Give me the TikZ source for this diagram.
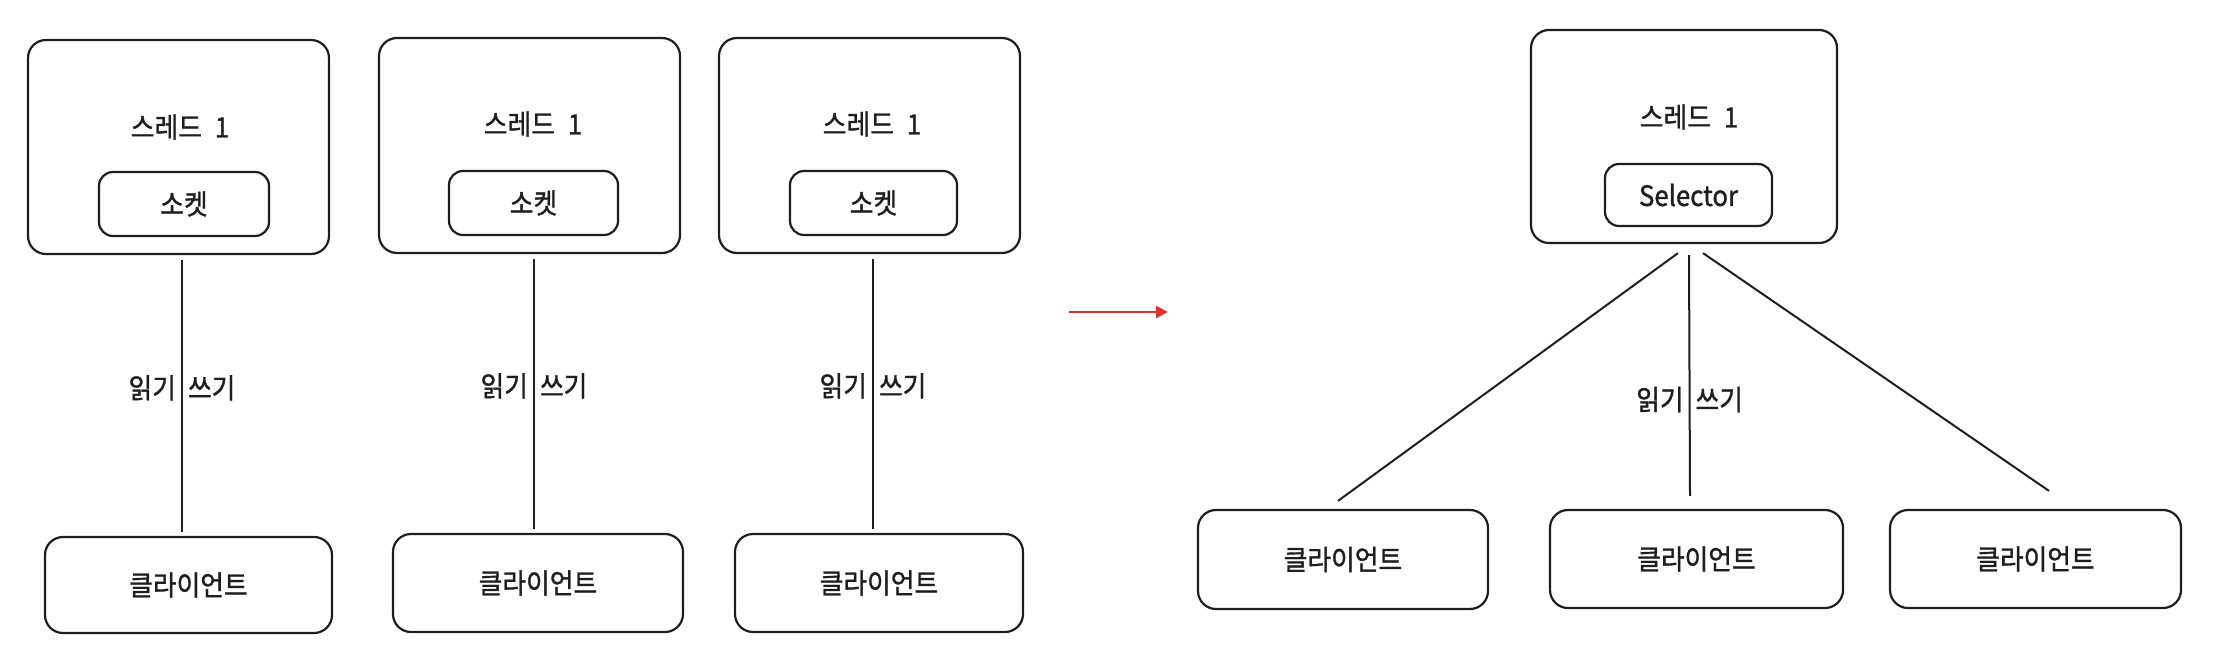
\documentclass[tikz,border=0pt]{standalone}
\usepackage{fontspec}
\setmainfont{Noto Sans CJK KR}[FakeBold=1.2,FakeStretch=0.92]
\usetikzlibrary{arrows.meta}
\definecolor{ink}{HTML}{1E1E1E}
\definecolor{redink}{HTML}{E03131}
\begin{document}
\begin{tikzpicture}[x=1pt,y=-1pt,
  box/.style={draw=ink, line width=2.2pt, rounded corners=18pt, inner sep=0pt},
  inbox/.style={draw=ink, line width=2.2pt, rounded corners=14pt, inner sep=0pt, text=ink, font=\fontsize{28}{32}\selectfont},
  lbl/.style={text=ink, font=\fontsize{28}{32}\selectfont, inner sep=0pt},
  wire/.style={draw=ink, line width=2pt},
]
\useasboundingbox (0,0) rectangle (2216,652);
% left threads
\node[box, minimum width=301pt, minimum height=214pt] (t1) at (178.5,147) {};
\node[box, minimum width=301pt, minimum height=215pt] (t2) at (529.5,145.5) {};
\node[box, minimum width=301pt, minimum height=215pt] (t3) at (869.5,145.5) {};
\node[lbl] (n1) at (180,127) {스레드\hspace{13pt}1};
\node[lbl] (n2) at (533,124) {스레드\hspace{13pt}1};
\node[lbl] (n3) at (872,124) {스레드\hspace{13pt}1};
\node[inbox, minimum width=170pt, minimum height=64pt] (s1) at (184,204) {소켓};
\node[inbox, minimum width=169pt, minimum height=64pt] (s2) at (533.5,203) {소켓};
\node[inbox, minimum width=167pt, minimum height=64pt] (s3) at (873.5,203) {소켓};
% left clients
\node[inbox, rounded corners=18pt, minimum width=287pt, minimum height=96pt] (c1) at (188.5,585) {클라이언트};
\node[inbox, rounded corners=18pt, minimum width=290pt, minimum height=98pt] (c2) at (538,583) {클라이언트};
\node[inbox, rounded corners=18pt, minimum width=288pt, minimum height=98pt] (c3) at (879,583) {클라이언트};
% left wires
\draw[wire] ([xshift=3.5pt,yshift=-5pt]t1.south) -- node[lbl, pos=0.47] (w1) {읽기\hspace{12pt}쓰기} ([xshift=-6.5pt,yshift=4pt]c1.north);
\draw[wire] ([xshift=4.5pt,yshift=-5pt]t2.south) -- node[lbl, pos=0.47] (w2) {읽기\hspace{12pt}쓰기} ([xshift=-4pt,yshift=4pt]c2.north);
\draw[wire] ([xshift=3.5pt,yshift=-5pt]t3.south) -- node[lbl, pos=0.47] (w3) {읽기\hspace{12pt}쓰기} ([xshift=-6pt,yshift=4pt]c3.north);
% red arrow
\coordinate (a0) at (1069,312);
\coordinate (a1) at (1168,312);
\draw[draw=redink, line width=2.2pt, -{Triangle[length=12pt,width=12pt]}] (a0) -- (a1);
% right side
\node[box, minimum width=306pt, minimum height=213pt] (t4) at (1684,136.5) {};
\node[lbl] (n4) at (1689,117) {스레드\hspace{13pt}1};
\node[inbox, minimum width=167pt, minimum height=62pt] (sel) at (1688.5,195) {Selector};
\node[inbox, rounded corners=18pt, minimum width=290pt, minimum height=99pt] (r1) at (1343,559.5) {클라이언트};
\node[inbox, rounded corners=18pt, minimum width=293pt, minimum height=98pt] (r2) at (1696.5,559) {클라이언트};
\node[inbox, rounded corners=18pt, minimum width=291pt, minimum height=98pt] (r3) at (2035.5,559) {클라이언트};
\draw[wire] ([xshift=-6pt,yshift=-9pt]t4.south) -- ([xshift=-5pt,yshift=8pt]r1.north);
\draw[wire] ([xshift=5pt,yshift=-11pt]t4.south) -- node[lbl, pos=0.6] (w4) {읽기\hspace{12pt}쓰기} ([xshift=-6.5pt,yshift=13pt]r2.north);
\draw[wire] ([xshift=19pt,yshift=-9pt]t4.south) -- ([xshift=13.5pt,yshift=18pt]r3.north);
\end{tikzpicture}
\end{document}
